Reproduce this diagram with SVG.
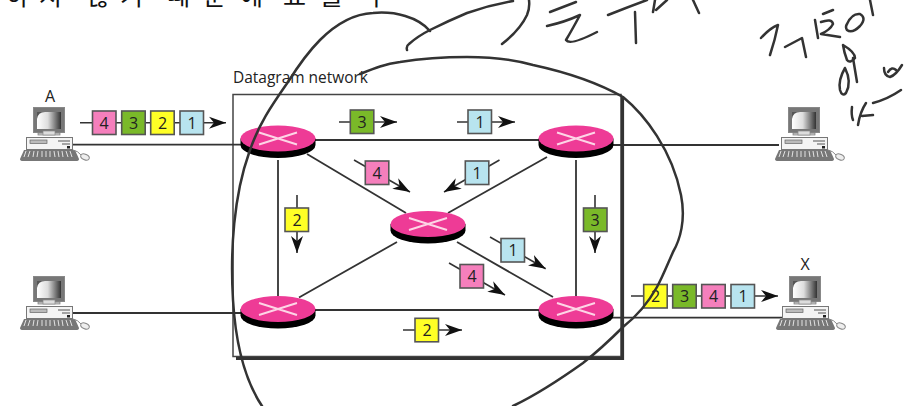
<svg xmlns="http://www.w3.org/2000/svg" width="904" height="406" viewBox="0 0 904 406">
<style>
text{font-family:"Open Sans","Noto Sans","Liberation Sans",sans-serif;fill:#222}
.lbl{font-size:16px;text-anchor:middle}
.num{font-size:16px;text-anchor:middle}
.ko{font-family:"Noto Sans CJK KR",sans-serif;font-size:25px;fill:#111}
.link{stroke:#333;stroke-width:1.8;fill:none}
.flow{stroke:#333;stroke-width:1.6;fill:none;marker-end:url(#ah)}
.p{stroke:#555;stroke-width:1.6}
.pk{fill:#f57fbc}.gr{fill:#7ab929}.ye{fill:#ffff26}.bl{fill:#b8e4ef}
.ink{stroke:#333;stroke-width:2.500;fill:none;stroke-linecap:round;stroke-linejoin:round}
</style>
<defs>
<marker id="ah" markerUnits="userSpaceOnUse" markerWidth="18" markerHeight="14" refX="17" refY="7" orient="auto">
<path d="M0,1 L17,7 L0,13 L5,7Z" fill="#111"/>
</marker>
<linearGradient id="scr" x1="0" x2="1"><stop offset="0" stop-color="#fff"/><stop offset=".45" stop-color="#ddd"/><stop offset="1" stop-color="#333"/></linearGradient>
<g id="router">
<path d="M-37.500,0 V6.500 A37.500,13 0 0 0 37.500,6.500 V0Z" fill="#000"/>
<ellipse rx="37.500" ry="13" fill="#ee3b96"/>
<path d="M-19,-6 L19,6 M-19,6 L19,-6" stroke="#fdd5e6" stroke-width="1.900"/>
</g>
<g id="pc">
<rect x="33.500" y="107.500" width="31" height="25" fill="#777" stroke="#888"/>
<path d="M37,112 H61 V129 H37Z" fill="url(#scr)"/>
<path d="M37,119 Q38,112 45,112 H37Z" fill="#555"/>
<rect x="38" y="133" width="22" height="2" fill="#ccc" stroke="#777" stroke-width=".7"/>
<rect x="43" y="131" width="12" height="4" fill="#ddd" stroke="#888" stroke-width=".7"/>
<rect x="26.500" y="137.500" width="46" height="12" fill="#f4f4f4" stroke="#777"/>
<rect x="30" y="140" width="17" height="3.500" fill="#bbb" stroke="#666" stroke-width=".7"/>
<path d="M58,141 H70 M62,144 H70" stroke="#555" stroke-width="1.200"/>
<rect x="67" y="146" width="3" height="2.500" fill="#222"/>
<path d="M24,150 H75 L79,159 Q79,161 76,161 H23 Q20,161 20,159Z" fill="#777"/>
<path d="M26,151 L24,157 M30,151 L28,157 M34,151 L33,157 M38,151 L37,157 M42,151 V157 M46,151 V157 M50,151 V157 M54,151 L55,157 M58,151 L59,157 M62,151 L63,157 M66,151 L68,157 M70,151 L72,157" stroke="#eee" stroke-width=".9"/>
<path d="M73,150 Q78,151 81,155" stroke="#888" fill="none"/>
<ellipse cx="85" cy="157" rx="4.500" ry="2.800" transform="rotate(25 85 157)" fill="#eee" stroke="#888"/>
</g>
</defs>
<rect width="904" height="406" fill="#fff"/>

<text class="ko" y="5" x="6 39 70 87 120 160 167 203 240 275 283 320 360 365">하지 않기 때문에 표를 구</text>

<g id="network">
<rect x="233" y="94.500" width="388" height="262" fill="none" stroke="#444" stroke-width="1.500"/>
<path d="M622.500,97 V358.500 H236" fill="none" stroke="#333" stroke-width="3.200"/>
<text x="233" y="83" font-size="16" textLength="135" lengthAdjust="spacingAndGlyphs">Datagram network</text>
</g>

<g id="connectors">
<path class="link" d="M73,144.700 H242 M73,313 H242 M278,160 V297 M576,160 V297 M312,140 H540 M312,310 H540 M612,145 H779 M612,317.700 H782"/>
<path class="link" d="M307,154 L406,213 M547,157 L448,213 M299,297.500 L397,242 M457,242 L553,297"/>
</g>

<g id="flows">
<path class="flow" d="M80,122.700 H226"/>
<path class="flow" d="M339,122 H397"/>
<path class="flow" d="M457,122 H515"/>
<path class="flow" d="M354,160 L410,192"/>
<path class="flow" d="M499.500,160 L444,192"/>
<path class="flow" d="M490,237 L545.700,268.700"/>
<path class="flow" d="M449,263 L505,295"/>
<path class="flow" d="M297,195 V253"/>
<path class="flow" d="M595,195 V253"/>
<path class="flow" d="M403,330 H462"/>
<path class="flow" d="M631,296 H778"/>
</g>

<g id="router-tl"><use href="#router" x="278" y="138.500"/></g>
<g id="router-tr"><use href="#router" x="576" y="138.500"/></g>
<g id="router-c"><use href="#router" x="428" y="224"/></g>
<g id="router-bl"><use href="#router" x="278" y="309"/></g>
<g id="router-br"><use href="#router" x="576" y="309"/></g>

<g id="host-a"><use href="#pc"/><text class="lbl" x="50" y="102">A</text></g>
<g id="host-b"><use href="#pc" y="169"/></g>
<g id="host-c"><use href="#pc" x="755"/></g>
<g id="host-x"><use href="#pc" x="756" y="169"/><text class="lbl" x="805" y="270">X</text></g>

<g id="packets">
<g><rect class="p pk" x="92.500" y="111" width="23.500" height="23.500"/><text class="num" x="104" y="128.500">4</text></g>
<g><rect class="p gr" x="121.700" y="111" width="23.500" height="23.500"/><text class="num" x="133.500" y="128.500">3</text></g>
<g><rect class="p ye" x="150.700" y="111" width="23.500" height="23.500"/><text class="num" x="162.500" y="128.500">2</text></g>
<g><rect class="p bl" x="180" y="111" width="23.500" height="23.500"/><text class="num" x="192" y="128.500">1</text></g>
<g><rect class="p gr" x="350.300" y="110" width="23.500" height="23.500"/><text class="num" x="362" y="127.500">3</text></g>
<g><rect class="p bl" x="468" y="110" width="23.500" height="23.500"/><text class="num" x="480" y="127.500">1</text></g>
<g><rect class="p pk" x="365.300" y="161" width="23.500" height="23.500"/><text class="num" x="377" y="178.500">4</text></g>
<g><rect class="p bl" x="465.300" y="161" width="23.500" height="23.500"/><text class="num" x="477" y="178.500">1</text></g>
<g><rect class="p bl" x="501" y="238.500" width="23.500" height="23.500"/><text class="num" x="513" y="256">1</text></g>
<g><rect class="p pk" x="460" y="264.500" width="23.500" height="23.500"/><text class="num" x="472" y="282">4</text></g>
<g><rect class="p ye" x="285" y="208" width="23.500" height="23.500"/><text class="num" x="297" y="225.500">2</text></g>
<g><rect class="p gr" x="583.500" y="208" width="23.500" height="23.500"/><text class="num" x="595" y="225.500">3</text></g>
<g><rect class="p ye" x="415" y="318.300" width="23.500" height="23.500"/><text class="num" x="427" y="335.800">2</text></g>
<g><rect class="p ye" x="643.700" y="284.500" width="23.500" height="23.500"/><text class="num" x="655.500" y="302">2</text></g>
<g><rect class="p gr" x="672.700" y="284.500" width="23.500" height="23.500"/><text class="num" x="684.500" y="302">3</text></g>
<g><rect class="p pk" x="701.700" y="284.500" width="23.500" height="23.500"/><text class="num" x="713.500" y="302">4</text></g>
<g><rect class="p bl" x="731" y="284.500" width="23.500" height="23.500"/><text class="num" x="743" y="302">1</text></g>
</g>

<g id="annotations">
<path class="ink" d="M262,406 C248,385 236,350 233,300 C230,250 234,195 249,153 C258,125 272,105 288,82 C300,63 310,50 320,40 C332,28 350,14 373,13 C395,11 418,17 430,31"/>
<path class="ink" d="M360,74 C375,68 385,64 400,62 C425,58 445,57 467,57 C490,57 515,60 533,65 C570,73 600,84 623,97 C645,115 672,150 681,195 C686,220 680,240 673,252 C666,268 662,278 657,287 C648,303 637,316 623,327 C610,340 597,352 583,363 C562,378 538,394 513,406"/>
<path class="ink" d="M407,50 Q406,46 409,44 Q418,36 430,30 Q448,21 467,13 Q490,5 513,1"/>
<path class="ink" d="M529,0 Q530,8 527,15 Q520,30 502,44"/>
<path class="ink" d="M550,12 L576,2 M547,26 Q565,22 580,15 Q572,30 566,40 Q570,46 597,32"/>
<path class="ink" d="M608,15 Q628,7 647,0 M635,12 L636,43 M653,12 L655,0 M656,10 L667,0 M693,0 L699,13"/>
<path class="ink" d="M761,38 Q770,28 778,25 Q775,40 770,55 M785,47 L802,38 L806,57 M815,20 L818,38 M823,14 L833,10 M821,22 Q832,18 833,24 Q830,30 821,34 L840,37 M847,24 Q852,13 860,14 Q867,18 860,26 Q852,34 847,30 Q845,27 847,24 M870,0 L873,15"/>
<path class="ink" d="M843,45 Q855,52 855,58 Q850,64 847,60 Q844,52 843,45"/>
<path class="ink" d="M845,68 Q838,80 840,90 Q842,97 846,93 Q852,82 845,68 M853,58 L857,82"/>
<path class="ink" d="M884,68 Q884,76 890,77 Q896,75 902,65 M888,72 Q892,66 896,70"/>
<path class="ink" d="M852,107 Q851,115 853,120 M858,125 Q860,112 866,103 M862,116 L873,115 M873,103 Q888,99 901,90"/>
</g>
</svg>
